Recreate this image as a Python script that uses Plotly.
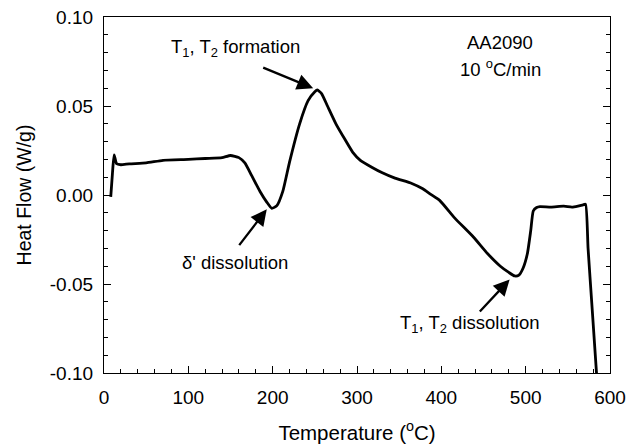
import plotly.graph_objects as go

temperature = [8, 10, 12, 15, 20, 30, 50, 70, 100, 120, 140, 150, 160, 167, 175, 185, 193, 199, 205, 212, 220, 232, 242, 250, 253, 258, 265, 275, 286, 295, 304, 318, 330, 345, 365, 378, 387, 398, 416, 438, 455, 470, 480, 487, 492, 497, 502, 506, 509, 513, 517, 530, 545, 555, 562, 568, 571, 574, 579, 584]
heat_flow = [-0.001, 0.012, 0.0225, 0.0175, 0.017, 0.0175, 0.018, 0.0195, 0.020, 0.0205, 0.021, 0.0222, 0.021, 0.018, 0.011, 0.002, -0.004, -0.0075, -0.006, 0.002, 0.0185, 0.040, 0.053, 0.058, 0.059, 0.057, 0.050, 0.040, 0.031, 0.024, 0.0195, 0.0155, 0.0125, 0.0095, 0.0065, 0.0035, 0.0005, -0.003, -0.013, -0.0236, -0.033, -0.040, -0.0435, -0.0455, -0.045, -0.041, -0.033, -0.020, -0.009, -0.007, -0.0065, -0.0068, -0.0063, -0.0068, -0.0062, -0.0055, -0.0052, -0.03, -0.065, -0.10]

x_ticks = [0, 100, 200, 300, 400, 500, 600]
y_ticks = [-0.10, -0.05, 0.00, 0.05, 0.10]
y_tick_labels = ["-0.10", "-0.05", "0.00", "0.05", "0.10"]

FONT = "Liberation Sans, Arial, sans-serif"

fig = go.Figure()
fig.add_trace(go.Scatter(x=temperature, y=heat_flow, mode="lines",
                         line=dict(color="black", width=2.8, shape="spline", smoothing=0.5),
                         showlegend=False, hoverinfo="skip"))

axis_common = dict(showline=True, linecolor="black", linewidth=1.2,
                   ticks="inside", ticklen=7, tickwidth=1, tickcolor="black",
                   showgrid=False, zeroline=False, automargin=False,
                   tickfont=dict(family=FONT, size=19, color="black"))

fig.update_xaxes(range=[0, 600], tickvals=x_ticks, mirror=True, ticklabelstandoff=7,
                 minor=dict(dtick=20, ticks="inside", ticklen=4, tickcolor="black", showgrid=False),
                 title=dict(text="Temperature (<sup>o</sup>C)", font=dict(family=FONT, size=20.5, color="black"), standoff=18),
                 **axis_common)
fig.update_yaxes(range=[-0.10, 0.10], tickvals=y_ticks, ticktext=y_tick_labels, mirror="allticks",
                 ticklabelstandoff=6,
                 minor=dict(dtick=0.01, ticks="inside", ticklen=4, tickcolor="black", showgrid=False),
                 title=dict(text="Heat Flow (W/g)", font=dict(family=FONT, size=19.5, color="black"), standoff=12),
                 **axis_common)

ann_font = dict(family=FONT, size=18.5, color="black")
arrow = dict(showarrow=True, arrowhead=2, arrowsize=1.4, arrowwidth=2.3, arrowcolor="black",
             axref="x", ayref="y", xref="x", yref="y")

# T1,T2 formation arrow
fig.add_annotation(x=248, y=0.0600, ax=187, ay=0.0719, text="", **arrow)
fig.add_annotation(x=156, y=0.0825, text="T<sub>1</sub>, T<sub>2</sub> formation", showarrow=False,
                   xref="x", yref="y", font=ann_font)
# delta' dissolution arrow
fig.add_annotation(x=193, y=-0.0080, ax=159, ay=-0.029, text="", **arrow)
fig.add_annotation(x=155, y=-0.038, text="δ' dissolution", showarrow=False,
                   xref="x", yref="y", font=ann_font)
# T1,T2 dissolution arrow
fig.add_annotation(x=481, y=-0.0475, ax=444, ay=-0.0663, text="", **arrow)
fig.add_annotation(x=434, y=-0.0725, text="T<sub>1</sub>, T<sub>2</sub> dissolution", showarrow=False,
                   xref="x", yref="y", font=ann_font)
# sample label
fig.add_annotation(x=470, y=0.0855, text="AA2090", showarrow=False,
                   xref="x", yref="y", font=ann_font, align="center")
fig.add_annotation(x=470, y=0.0715, text="10 <sup>o</sup>C/min", showarrow=False,
                   xref="x", yref="y", font=ann_font, align="center")

fig.update_layout(width=637, height=446, margin=dict(l=104, r=27, t=17, b=73),
                  paper_bgcolor="white", plot_bgcolor="white",
                  font=dict(family=FONT, color="black"))

fig.write_html("out.html")
